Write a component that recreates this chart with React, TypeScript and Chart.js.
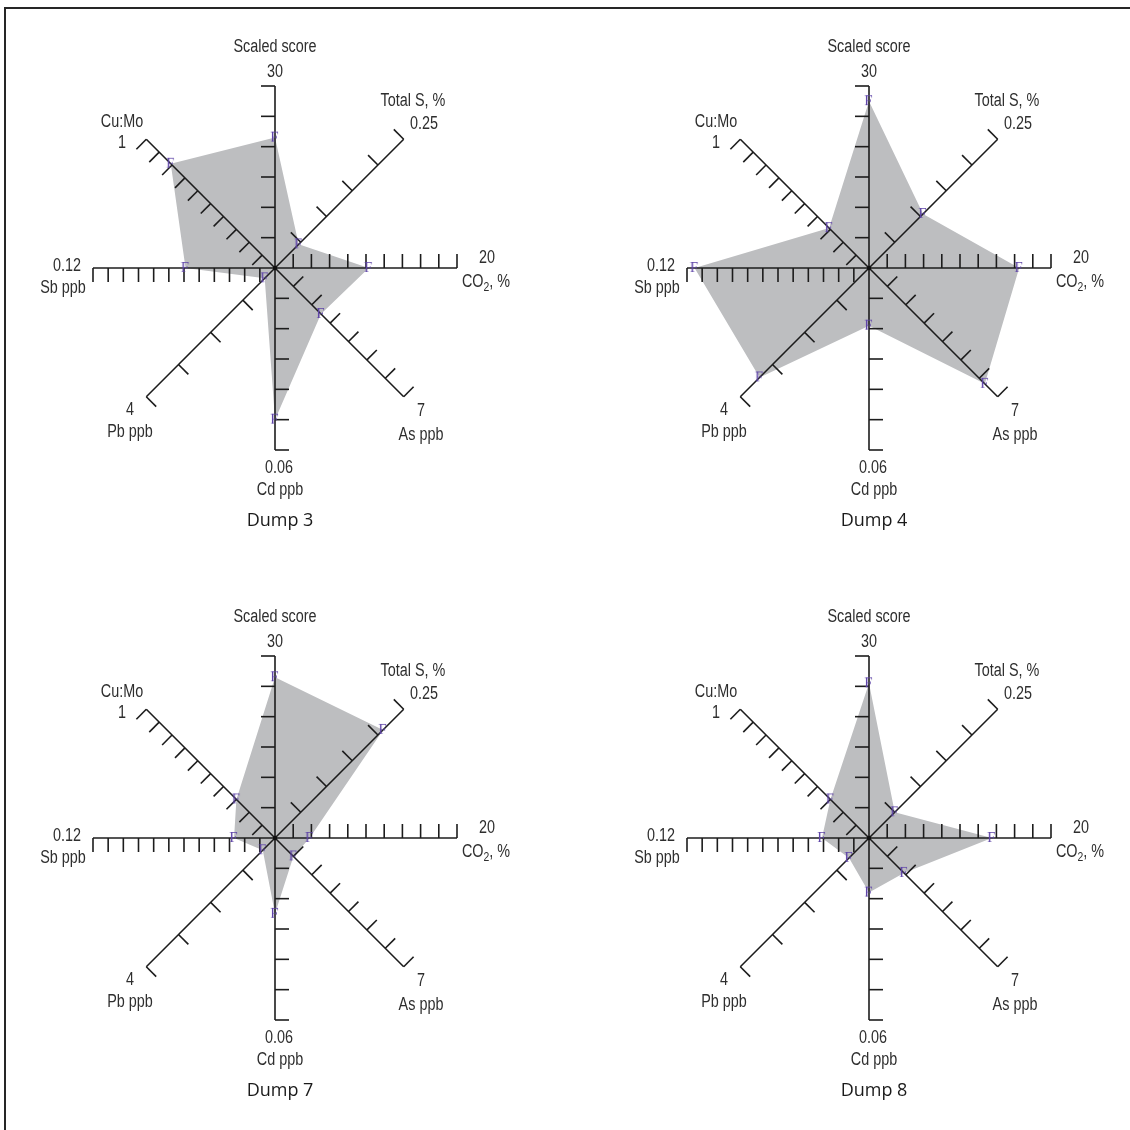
import React, { useEffect, useRef } from "react";
import { Chart, registerables } from "chart.js";

Chart.register(...registerables);

// ---- data ----
const axisNames = ["Scaled score", "Total S, %", "CO2, %", "As ppb", "Cd ppb", "Pb ppb", "Sb ppb", "Cu:Mo"];
const axisMax = [30, 0.25, 20, 7, 0.06, 4, 0.12, 1];
const axisMaxLabels = ["30", "0.25", "20", "7", "0.06", "4", "0.12", "1"];
const axisTickCounts = [6, 5, 10, 7, 6, 4, 12, 10];

const dumpNames = ["Dump 3", "Dump 4", "Dump 7", "Dump 8"];
const dump3 = [21.5, 0.046, 10.3, 2.5, 0.05, 0.32, 0.059, 0.81];
const dump4 = [27.5, 0.105, 16.5, 6.3, 0.019, 3.4, 0.115, 0.31];
const dump7 = [26.5, 0.21, 3.8, 1.0, 0.025, 0.38, 0.027, 0.3];
const dump8 = [25.5, 0.05, 13.5, 1.9, 0.018, 0.62, 0.031, 0.3];
const dumpValues = [dump3, dump4, dump7, dump8];

// ---- layout (positions only) ----
const CANVAS_W = 560;
const CANVAS_H = 560;
const CENTER_X = 280;
const CENTER_Y = 275;
const RADIUS = 182;
const TICK_LEN = 14;
const panelCenters = [
  [275, 268],
  [869, 268],
  [275, 838],
  [869, 838],
];
// [nameDx, nameDy, maxDx, maxDy] relative to the radar centre
const labelOffsets = [
  [0, -221, 0, -196],
  [138, -167, 149, -144],
  [211, 14, 212, -10],
  [146, 167, 146, 143],
  [5, 222, 4, 200],
  [-145, 164, -145, 142],
  [-212, 20, -208, -2],
  [-153, -146, -153, -125],
];
const TITLE_OFFSET = [5, 253];

const LABEL_FONT = "18px 'Liberation Sans', Arial, sans-serif";
const SUB_FONT = "13px 'Liberation Sans', Arial, sans-serif";
const NARROW = 0.8;
const TEXT_COLOR = "#2e2e2e";

function drawNarrow(ctx: CanvasRenderingContext2D, text: string, x: number, y: number) {
  ctx.save();
  ctx.translate(x, y);
  ctx.scale(NARROW, 1);
  ctx.fillText(text, 0, 0);
  ctx.restore();
}

function drawCO2(ctx: CanvasRenderingContext2D, cx: number, cy: number) {
  ctx.save();
  ctx.font = LABEL_FONT;
  const wA = ctx.measureText("CO").width * NARROW;
  const wC = ctx.measureText(", %").width * NARROW;
  ctx.font = SUB_FONT;
  const wB = ctx.measureText("2").width * NARROW;
  const total = wA + wB + wC;
  let x = cx - total / 2;
  ctx.textAlign = "left";
  ctx.font = LABEL_FONT;
  drawNarrow(ctx, "CO", x, cy);
  x += wA;
  ctx.font = SUB_FONT;
  drawNarrow(ctx, "2", x, cy + 5);
  x += wB;
  ctx.font = LABEL_FONT;
  drawNarrow(ctx, ", %", x, cy);
  ctx.restore();
}

function makeMarker(): HTMLCanvasElement {
  const c = document.createElement("canvas");
  c.width = 16;
  c.height = 16;
  const m = c.getContext("2d")!;
  m.fillStyle = "#5f45a8";
  m.font = "15px 'Liberation Serif', 'DejaVu Serif', serif";
  m.textAlign = "center";
  m.textBaseline = "middle";
  m.fillText("F", 7.5, 8.5);
  return c;
}

function RadarPanel({ values, title, cx, cy }: { values: number[]; title: string; cx: number; cy: number }) {
  const ref = useRef<HTMLCanvasElement>(null);

  useEffect(() => {
    if (!ref.current) return;
    const norm = values.map((v, i) => v / axisMax[i]);
    const marker = makeMarker();

    const axesPlugin = {
      id: "dumpAxes",
      afterDatasetDraw(chart: any, args: any) {
        if (args.index !== 1) return;
        const scale = chart.scales.r;
        const ctx: CanvasRenderingContext2D = chart.ctx;
        ctx.save();
        ctx.strokeStyle = "#1c1c1c";
        ctx.lineWidth = 1.6;
        ctx.lineCap = "butt";
        for (let i = 0; i < axisNames.length; i++) {
          const end = scale.getPointPosition(i, scale.getDistanceFromCenterForValue(1));
          ctx.beginPath();
          ctx.moveTo(scale.xCenter, scale.yCenter);
          ctx.lineTo(end.x, end.y);
          ctx.stroke();
          const dx = Math.cos(end.angle);
          const dy = Math.sin(end.angle);
          const px = dy;
          const py = -dx;
          const n = axisTickCounts[i];
          for (let k = 1; k <= n; k++) {
            const p = scale.getPointPosition(i, scale.getDistanceFromCenterForValue(k / n));
            ctx.beginPath();
            ctx.moveTo(p.x, p.y);
            ctx.lineTo(p.x + px * TICK_LEN, p.y + py * TICK_LEN);
            ctx.stroke();
          }
        }
        ctx.fillStyle = "#111";
        ctx.beginPath();
        ctx.arc(scale.xCenter, scale.yCenter, 2.2, 0, Math.PI * 2);
        ctx.fill();
        ctx.restore();
      },
      afterDraw(chart: any) {
        const scale = chart.scales.r;
        const ctx: CanvasRenderingContext2D = chart.ctx;
        const x0 = scale.xCenter;
        const y0 = scale.yCenter;
        ctx.save();
        ctx.fillStyle = TEXT_COLOR;
        ctx.textAlign = "center";
        ctx.textBaseline = "middle";
        ctx.font = LABEL_FONT;
        for (let i = 0; i < axisNames.length; i++) {
          const o = labelOffsets[i];
          if (axisNames[i] === "CO2, %") {
            drawCO2(ctx, x0 + o[0], y0 + o[1]);
          } else {
            drawNarrow(ctx, axisNames[i], x0 + o[0], y0 + o[1]);
          }
          ctx.font = LABEL_FONT;
          ctx.textAlign = "center";
          drawNarrow(ctx, axisMaxLabels[i], x0 + o[2], y0 + o[3]);
        }
        ctx.fillStyle = "#1a1a1a";
        ctx.font = "18px 'Open Sans', 'Noto Sans', sans-serif";
        ctx.fillText(title, x0 + TITLE_OFFSET[0], y0 + TITLE_OFFSET[1]);
        ctx.restore();
      },
    };

    const chart = new Chart(ref.current, {
      type: "radar",
      data: {
        labels: axisNames,
        datasets: [
          {
            label: title + " markers",
            data: norm,
            showLine: false,
            fill: false,
            borderColor: "rgba(0,0,0,0)",
            borderWidth: 0,
            pointStyle: marker as any,
            pointRadius: 8,
            pointHoverRadius: 8,
          },
          {
            label: title,
            data: norm,
            fill: "origin",
            backgroundColor: "#bdbec0",
            borderColor: "rgba(0,0,0,0)",
            borderWidth: 0,
            pointRadius: 0,
            pointHoverRadius: 0,
            tension: 0,
          },
        ],
      },
      options: {
        responsive: false,
        animation: false,
        devicePixelRatio: 1,
        layout: {
          padding: {
            left: CENTER_X - RADIUS,
            right: CANVAS_W - CENTER_X - RADIUS,
            top: CENTER_Y - RADIUS,
            bottom: CANVAS_H - CENTER_Y - RADIUS,
          },
        },
        plugins: {
          legend: { display: false },
          tooltip: { enabled: false },
          title: { display: false },
        },
        events: [],
        scales: {
          r: {
            min: 0,
            max: 1,
            beginAtZero: true,
            ticks: { display: false },
            grid: { display: false },
            angleLines: { display: false },
            pointLabels: { display: false },
          },
        },
      },
      plugins: [axesPlugin],
    } as any);

    return () => chart.destroy();
  }, [values, title]);

  return (
    <canvas
      ref={ref}
      width={CANVAS_W}
      height={CANVAS_H}
      style={{
        position: "absolute",
        left: cx - CENTER_X,
        top: cy - CENTER_Y,
        width: CANVAS_W,
        height: CANVAS_H,
      }}
    />
  );
}

export default function App() {
  return (
    <div
      style={{
        position: "absolute",
        left: 0,
        top: 0,
        width: 1130,
        height: 1130,
        background: "#ffffff",
        overflow: "hidden",
      }}
    >
      <div
        style={{
          position: "absolute",
          left: 4,
          top: 7,
          width: 1140,
          height: 1140,
          borderTop: "2px solid #262626",
          borderLeft: "2px solid #262626",
        }}
      />
      {dumpValues.map((vals, i) => (
        <RadarPanel
          key={dumpNames[i]}
          values={vals}
          title={dumpNames[i]}
          cx={panelCenters[i][0]}
          cy={panelCenters[i][1]}
        />
      ))}
    </div>
  );
}
